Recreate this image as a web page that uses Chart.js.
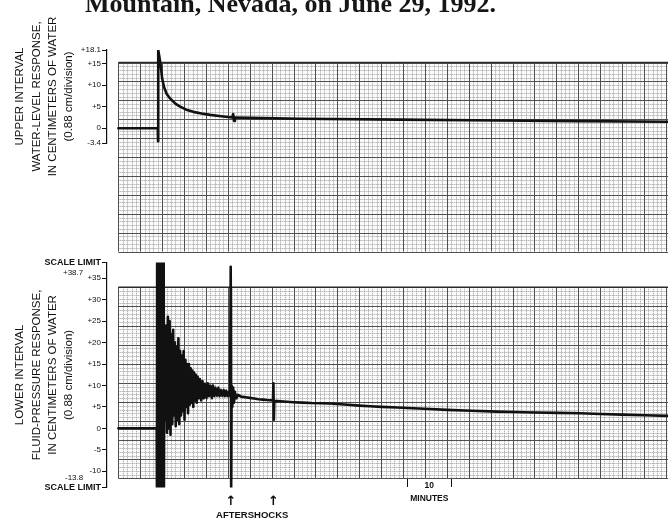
<!DOCTYPE html>
<html>
<head>
<meta charset="utf-8">
<script src="https://cdn.jsdelivr.net/npm/chart.js@4.4.1/dist/chart.umd.min.js"></script>
<style>
  html, body { margin: 0; padding: 0; background: #fff; }
  #page { position: relative; width: 668px; height: 521px; overflow: hidden; background: #fff; }
  #headline {
    position: absolute; left: 85px; top: -9px; z-index: 2;
    font: bold 26px "Liberation Serif", "DejaVu Serif", serif;
    line-height: 26px; color: #161616; white-space: nowrap;
  }
  canvas { position: absolute; left: 0; }
  #upperChart { top: 0; }
  #lowerChart { top: 256px; }
</style>
</head>
<body>
<div id="page">
  <div id="headline">Mountain, Nevada, on June 29, 1992.</div>
  <canvas id="upperChart" width="668" height="256"></canvas>
  <canvas id="lowerChart" width="668" height="265"></canvas>
</div>
<script>
// minutes are counted from the left edge of the recorder paper
const upperMinutes = [0, 9.0, 9.05, 9.1, 9.6, 10.0, 10.4, 11.0, 11.8, 13.0, 14.1, 15.5, 17.1, 19.0, 20.9, 23.5,
  26.0, 26.2, 26.4, 26.6, 30, 41.5, 64, 87, 105, 125.5];
const upperLevel = [0, 0, -3.0, 18.1, 15, 11.5, 9.6, 8.0, 6.9, 5.7, 5.0, 4.3, 3.8, 3.4, 3.1, 2.8,
  2.5, 3.3, 1.7, 2.5, 2.4, 2.2, 2.0, 1.8, 1.65, 1.5];

// the pen hits both scale limits while the main shock passes
const lowerMinutes = [0, 8.75, 8.8, 8.85, 8.9, 8.95, 9.0, 9.05, 9.1, 9.15, 9.2, 9.25, 9.3, 9.35, 9.4, 9.45, 9.5,
  9.55, 9.6, 9.65, 9.7, 9.75, 9.8, 9.85, 9.9, 9.95, 10.0, 10.05, 10.1, 10.15, 10.2, 10.25, 10.3, 10.35, 10.4,
  10.5, 10.7, 10.9, 11.1, 11.3, 11.5, 11.7, 11.9, 12.1, 12.3, 12.5, 12.7, 12.9, 13.1, 13.3, 13.5, 13.7, 13.9,
  14.1, 14.3, 14.5, 14.7, 14.9, 15.1, 15.3, 15.5, 15.7, 15.9, 16.1, 16.3, 16.5, 16.7, 16.9, 17.1, 17.3, 17.5,
  17.7, 17.9, 18.1, 18.3, 18.6, 18.9, 19.2, 19.5, 19.8, 20.1, 20.4, 20.7, 21.0, 21.3, 21.6, 21.9, 22.2, 22.5,
  22.8, 23.1, 23.4, 23.7, 24.0, 24.3, 24.6, 24.9, 25.2, 25.5, 25.65, 25.75, 25.85, 26.0, 26.2, 26.4, 26.6, 26.9,
  27.3, 28, 30, 32, 34, 35.3, 35.4, 35.5, 35.6, 37, 40, 44, 48.3, 55, 60, 67.3, 75, 86.4, 95, 105.4, 115, 125.5];
const lowerPressure = [0, 0, -13.8, 38.7, -13.8, 38.7, -13.8, 38.7, -13.8, 38.7, -13.8, 38.7, -13.8, 38.7, -13.8, 38.7, -13.8,
  38.7, -13.8, 38.7, -13.8, 38.7, -13.8, 38.7, -13.8, 38.7, -13.8, 38.7, -13.8, 38.7, -13.8, 38.7, -13.8, 38.7, -13.8,
  22, 2, 24, -1, 26, 0, 25, -1.5, 22, 1, 23, 3, 20, 0.5, 19, 2, 21, 1,
  18, 3, 17, 4, 18, 2, 16, 5, 15, 3.5, 15, 5.5, 14, 6, 13.5, 5, 13, 6.5,
  12.5, 6, 12, 7, 11.5, 6.5, 11, 7, 10.5, 7, 10.5, 7.5, 10, 7, 10, 7.5, 9.5, 7.5,
  9.5, 7.5, 9, 7.5, 9, 7.5, 8.8, 7.5, 8.5, 7.5, 37.7, -13.8, 10, 5, 9.5, 6, 8.5, 7,
  7.8, 7.4, 7.1, 6.8, 6.6, 6.5, 10.5, 2, 6.4, 6.3, 6.1, 5.9, 5.8, 5.3, 5.0, 4.7, 4.3, 3.9, 3.7, 3.5, 3.2, 2.9];

const upperTicks = [-3.4, 0, 5, 10, 15, 18.1];
const upperTickLabels = ['-3.4', '0', '+5', '+10', '+15', '+18.1'];
const lowerTicks = [-13.8, -11.6, -10, -5, 0, 5, 10, 15, 20, 25, 30, 35, 36.2, 38.7];
const lowerTickLabels = ['SCALE LIMIT', '-13.8        ', '-10', '-5', '0', '+5', '+10', '+15', '+20', '+25',
  '+30', '+35', '+38.7        ', 'SCALE LIMIT'];
const lowerLabelOnly = [-11.6, 36.2];

const minuteTicks = [66, 71, 76];
const minuteLabels = ['', ['10', 'MINUTES'], ''];
const aftershockTicks = [25.7, 30.55, 35.4];
const aftershockLabels = ['↑', ['', 'AFTERSHOCKS'], '↑'];

const X_MIN = -2.6;
const X_MAX = 125.5;
const SANS = '"Liberation Sans", Arial, sans-serif';
const INK = '#111';

const paperPlugin = {
  id: 'paper',
  beforeDatasetsDraw(chart, args, opts) {
    const { ctx, chartArea, scales: { x, y } } = chart;
    const left = x.getPixelForValue(opts.start);
    const right = chartArea.right;
    const top = y.getPixelForValue(opts.top);
    const bottom = y.getPixelForValue(opts.bottom);
    const minorCm = (opts.top - opts.bottom) / (opts.rows * 5);
    ctx.save();
    ctx.fillStyle = '#fbfbfb';
    ctx.fillRect(left, top, right - left, bottom - top);
    // minor divisions, dotted
    ctx.strokeStyle = '#9c9c9c';
    ctx.lineWidth = 1;
    ctx.setLineDash([1, 1]);
    ctx.beginPath();
    for (let k = 1; x.getPixelForValue(opts.start + k) < right; k++) {
      if (k % 5 === 0) continue;
      const px = Math.round(x.getPixelForValue(opts.start + k)) + 0.5;
      ctx.moveTo(px, top);
      ctx.lineTo(px, bottom);
    }
    for (let r = 1; r < opts.rows * 5; r++) {
      if (r % 5 === 0) continue;
      const py = Math.round(y.getPixelForValue(opts.top - r * minorCm)) + 0.5;
      ctx.moveTo(left, py);
      ctx.lineTo(right, py);
    }
    ctx.stroke();
    // major divisions
    ctx.setLineDash([]);
    ctx.strokeStyle = '#505050';
    ctx.beginPath();
    for (let k = 0; x.getPixelForValue(opts.start + k) < right; k += 5) {
      const px = Math.round(x.getPixelForValue(opts.start + k)) + 0.5;
      ctx.moveTo(px, top);
      ctx.lineTo(px, bottom);
    }
    for (let r = 0; r <= opts.rows; r++) {
      const py = Math.round(y.getPixelForValue(opts.top - r * minorCm * 5)) + 0.5;
      ctx.moveTo(left, py);
      ctx.lineTo(right, py);
    }
    ctx.stroke();
    ctx.strokeStyle = '#2a2a2a';
    ctx.lineWidth = 1.4;
    ctx.beginPath();
    ctx.moveTo(left, top);
    ctx.lineTo(right, top);
    ctx.stroke();
    ctx.restore();
  },
};

function bracketAxis(ticks, labels, labelOnly, title) {
  return {
    type: 'linear',
    position: 'left',
    min: ticks[0],
    max: ticks[ticks.length - 1],
    afterFit: (scale) => { scale.width = 107; },
    afterBuildTicks: (scale) => { scale.ticks = ticks.map((v) => ({ value: v })); },
    ticks: {
      callback: (v, i) => labels[i],
      autoSkip: false,
      padding: 1,
      color: INK,
      font: (ctx) => (labels[ctx.index] === 'SCALE LIMIT'
        ? { family: SANS, size: 9, weight: 'bold' }
        : { family: SANS, size: 8 }),
    },
    grid: {
      drawOnChartArea: false,
      tickLength: 5,
      tickWidth: 1,
      tickColor: (ctx) => (ctx.tick && labelOnly.includes(ctx.tick.value) ? 'rgba(0,0,0,0)' : INK),
    },
    border: { color: INK, width: 1.2 },
    title: {
      display: true,
      text: title,
      color: INK,
      font: { family: SANS, size: 11.5, lineHeight: 1.42 },
      padding: { top: 12, bottom: 0 },
    },
  };
}

function hiddenX() {
  return { type: 'linear', min: X_MIN, max: X_MAX, display: false };
}

function commonOptions(layoutPadding) {
  return {
    responsive: false,
    animation: false,
    events: [],
    layout: { padding: layoutPadding },
    plugins: { legend: { display: false }, tooltip: { enabled: false }, title: { display: false } },
    elements: { point: { radius: 0 }, line: { tension: 0, borderJoinStyle: 'round', borderCapStyle: 'round' } },
  };
}

new Chart(document.getElementById('upperChart'), {
  type: 'line',
  data: {
    datasets: [{
      data: upperMinutes.map((m, i) => ({ x: m, y: upperLevel[i] })),
      borderColor: INK,
      borderWidth: 2.6,
    }],
  },
  options: {
    ...commonOptions({ top: 50, bottom: 113, left: 0, right: 0 }),
    scales: {
      x: hiddenX(),
      y: bracketAxis(upperTicks, upperTickLabels, [],
        ['UPPER INTERVAL', 'WATER-LEVEL RESPONSE,', 'IN CENTIMETERS OF WATER', '(0.88 cm/division)']),
    },
    plugins: {
      ...commonOptions().plugins,
      paper: { start: 0, top: 15.2, bottom: -28.5, rows: 10 },
    },
  },
  plugins: [paperPlugin],
});

new Chart(document.getElementById('lowerChart'), {
  type: 'line',
  data: {
    datasets: [{
      data: lowerMinutes.map((m, i) => ({ x: m, y: lowerPressure[i] })),
      borderColor: INK,
      borderWidth: 2.6,
      // a tiny tension keeps every zigzag point instead of the per-pixel fast path
      tension: 0.0001,
    }],
  },
  options: {
    ...commonOptions({ top: 6.3, bottom: 33.5, left: 0, right: 0 }),
    scales: {
      x: hiddenX(),
      y: bracketAxis(lowerTicks, lowerTickLabels, lowerLabelOnly,
        ['LOWER INTERVAL', 'FLUID-PRESSURE RESPONSE,', 'IN CENTIMETERS OF WATER', '(0.88 cm/division)']),
      minutes: {
        type: 'linear',
        axis: 'x',
        position: { y: -11.7 },
        min: X_MIN,
        max: X_MAX,
        afterBuildTicks: (scale) => { scale.ticks = minuteTicks.map((v) => ({ value: v })); },
        ticks: {
          callback: (v, i) => minuteLabels[i],
          autoSkip: false,
          maxRotation: 0,
          padding: -8.4,
          color: INK,
          font: { family: SANS, size: 8.5, weight: 'bold', lineHeight: 1.5 },
        },
        grid: {
          drawOnChartArea: false,
          tickLength: 9,
          tickColor: (ctx) => (ctx.index === 1 ? 'rgba(0,0,0,0)' : INK),
        },
        border: { display: false },
      },
      aftershocks: {
        type: 'linear',
        axis: 'x',
        position: { y: -11.7 },
        min: X_MIN,
        max: X_MAX,
        afterBuildTicks: (scale) => { scale.ticks = aftershockTicks.map((v) => ({ value: v })); },
        ticks: {
          callback: (v, i) => aftershockLabels[i],
          autoSkip: false,
          maxRotation: 0,
          padding: 15.5,
          color: INK,
          font: (ctx) => (ctx.index === 1
            ? { family: SANS, size: 9.5, weight: 'bold', lineHeight: 1.5 }
            : { family: '"DejaVu Sans", sans-serif', size: 13, weight: 'bold', lineHeight: 1.1 }),
        },
        grid: { display: false, drawTicks: false },
        border: { display: false },
      },
    },
    plugins: {
      ...commonOptions().plugins,
      paper: { start: 0, top: 32.9, bottom: -11.7, rows: 10 },
    },
  },
  plugins: [paperPlugin],
});
</script>
</body>
</html>
